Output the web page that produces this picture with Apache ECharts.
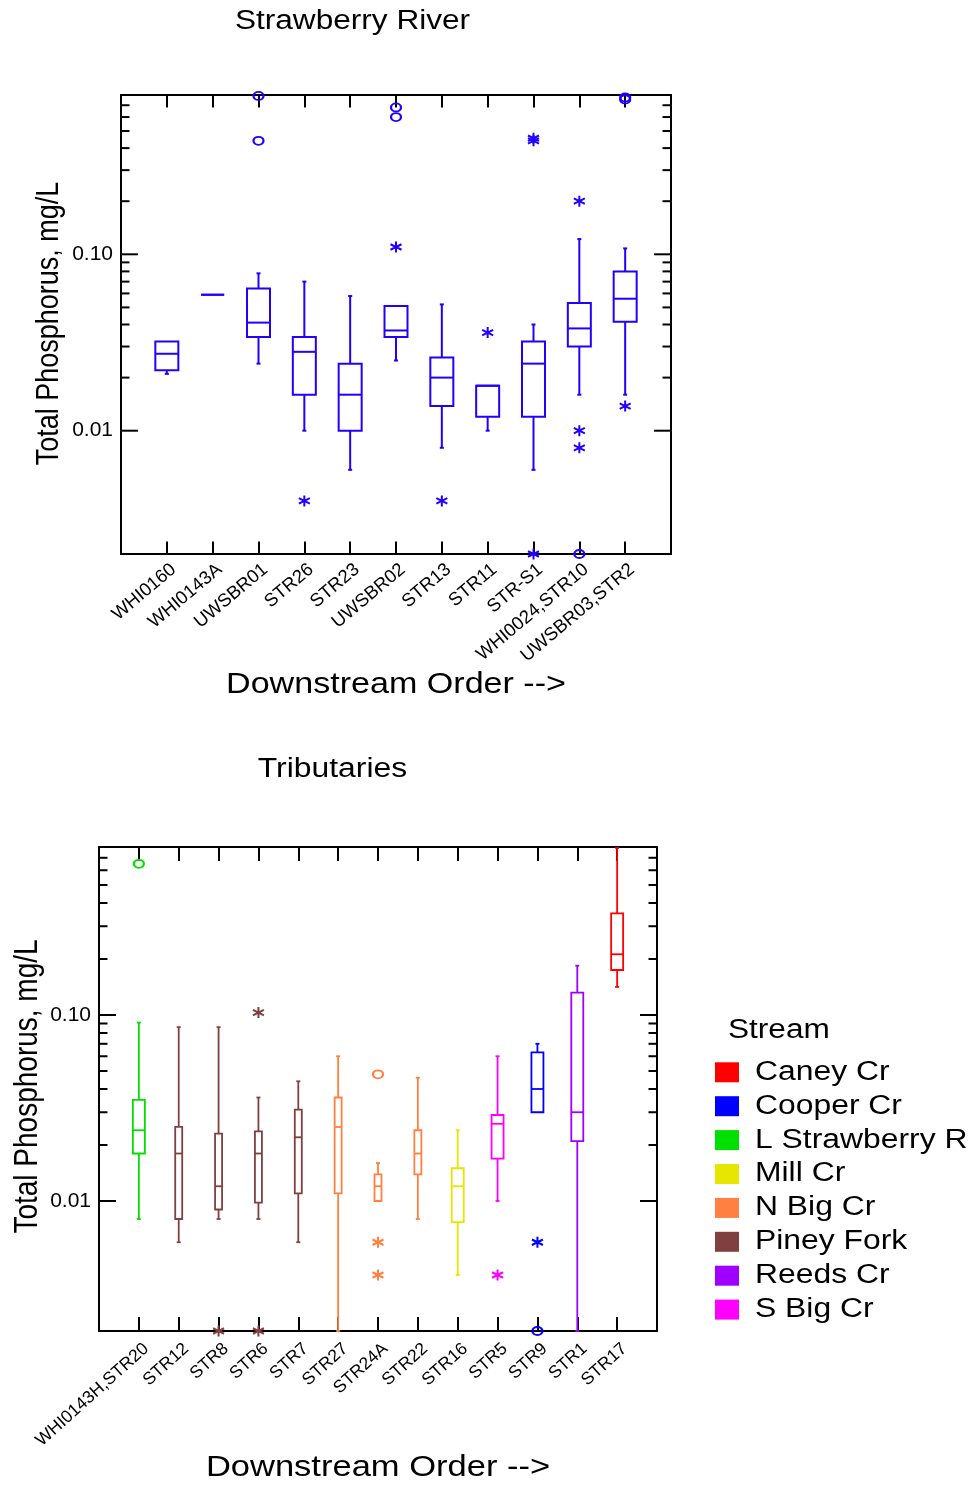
<!DOCTYPE html>
<html>
<head>
<meta charset="utf-8">
<script src="https://cdn.jsdelivr.net/npm/echarts@6.0.0/dist/echarts.min.js"></script>
<style>
html,body{margin:0;padding:0;background:#fff;}
#c{width:979px;height:1485px;}
</style>
</head>
<body>
<div id="c"></div>
<script>
// ---------------- DATA ----------------
// Strawberry River main stem (downstream order)
const riverStations = ['WHI0160','WHI0143A','UWSBR01','STR26','STR23','UWSBR02','STR13','STR11','STR-S1','WHI0024,STR10','UWSBR03,STR2'];
const riverLow  = [0.021, 0.059, 0.024, 0.010, 0.006, 0.025, 0.008, 0.010, 0.006, 0.016, 0.016];
const riverQ1   = [0.022, 0.059, 0.034, 0.016, 0.010, 0.034, 0.0138, 0.012, 0.012, 0.030, 0.0414];
const riverMed  = [0.0273, 0.059, 0.041, 0.028, 0.016, 0.037, 0.020, 0.018, 0.024, 0.038, 0.056];
const riverQ3   = [0.032, 0.059, 0.064, 0.034, 0.024, 0.051, 0.026, 0.018, 0.032, 0.053, 0.080];
const riverHigh = [0.032, 0.059, 0.078, 0.070, 0.058, 0.051, 0.052, 0.018, 0.040, 0.122, 0.108];
// far outliers (circles) and outside values (asterisks)
const riverFar = [['UWSBR01',0.79],['UWSBR01',0.44],['UWSBR02',0.68],['UWSBR02',0.60],['WHI0024,STR10',0.002],['UWSBR03,STR2',0.775],['UWSBR03,STR2',0.755]];
const riverOut = [['STR26',0.004],['UWSBR02',0.11],['STR13',0.004],['STR11',0.036],['STR-S1',0.455],['STR-S1',0.44],['STR-S1',0.002],['WHI0024,STR10',0.20],['WHI0024,STR10',0.010],['WHI0024,STR10',0.008],['UWSBR03,STR2',0.0138]];

// Tributaries (downstream order)
const tribStations = ['WHI0143H,STR20','STR12','STR8','STR6','STR7','STR27','STR24A','STR22','STR16','STR5','STR9','STR1','STR17'];
const tribStream   = ['L Strawberry R','Piney Fork','Piney Fork','Piney Fork','Piney Fork','N Big Cr','N Big Cr','N Big Cr','Mill Cr','S Big Cr','Cooper Cr','Reeds Cr','Caney Cr'];
const tribLow  = [0.008, 0.006, 0.008, 0.008, 0.006, 0.002, 0.010, 0.008, 0.004, 0.010, 0.030, 0.002, 0.1415];
const tribQ1   = [0.018, 0.008, 0.009, 0.0098, 0.011, 0.011, 0.010, 0.0139, 0.0077, 0.0169, 0.030, 0.021, 0.1745];
const tribMed  = [0.024, 0.018, 0.012, 0.018, 0.022, 0.025, 0.012, 0.018, 0.012, 0.026, 0.040, 0.030, 0.212];
const tribQ3   = [0.035, 0.025, 0.023, 0.0237, 0.031, 0.036, 0.0139, 0.024, 0.015, 0.029, 0.063, 0.132, 0.352];
const tribHigh = [0.091, 0.086, 0.086, 0.036, 0.044, 0.060, 0.016, 0.046, 0.024, 0.060, 0.070, 0.184, 0.79];
const tribFar = [['WHI0143H,STR20',0.65],['STR24A',0.048],['STR9',0.002]];
const tribOut = [['STR8',0.002],['STR6',0.103],['STR6',0.002],['STR24A',0.006],['STR24A',0.004],['STR5',0.004],['STR9',0.006]];

const streamNames = ['Caney Cr','Cooper Cr','L Strawberry R','Mill Cr','N Big Cr','Piney Fork','Reeds Cr','S Big Cr'];

// axis ticks (mg/L)
const yAxisMin = 0.002, yAxisMax = 0.8;
const majorTicks = [0.01, 0.1];
const minorTicks = [0.02,0.03,0.04,0.05,0.06,0.07,0.08,0.09,0.2,0.3,0.4,0.5,0.6,0.7];

// ---------------- STYLE ----------------
const FONT = '"Liberation Sans", Arial, Helvetica, sans-serif';
const riverColor = '#2200ff';
const streamColors = ['#ff0000','#0000ff','#00e000','#e6e600','#ff8040','#804040','#a000ff','#ff00ff'];
const narrowStreams = ['Piney Fork','N Big Cr'];
const ASTERISK = 'path://M5 0 L5 10 M0.67 2.5 L9.33 7.5 M0.67 7.5 L9.33 2.5';

function yLabel(v) {
  const l = Math.log10(v);
  if (Math.abs(l + 2) < 1e-6) return '0.01';
  if (Math.abs(l + 1) < 1e-6) return '0.10';
  return '';
}

function xAxes(gi, cats, rot, tickLen, margin, shift, fs) {
  const data = [''].concat(cats, ['']);
  const base = {
    type: 'category', gridIndex: gi, data: data, boundaryGap: false,
    axisLine: {show: true, onZero: false, lineStyle: {color: '#000', width: 2}},
    axisTick: {show: true, inside: true, length: tickLen, interval: 0, lineStyle: {color: '#000', width: 2}},
    splitLine: {show: false}
  };
  return [
    Object.assign({}, base, {position: 'bottom',
      axisLabel: {show: true, interval: 0, rotate: rot, margin: margin, fontSize: fs, fontFamily: FONT, color: '#000',
                  padding: [0, -shift, 0, 0]}}),
    Object.assign({}, base, {position: 'top', axisLabel: {show: false}})
  ];
}

function yAxes(gi) {
  const base = {
    type: 'log', logBase: 10, gridIndex: gi, min: yAxisMin, max: yAxisMax,
    axisLine: {show: true, onZero: false, lineStyle: {color: '#000', width: 2}},
    axisTick: {show: false}, splitLine: {show: false},
    minorTick: {show: false}, minorSplitLine: {show: false}
  };
  return [
    Object.assign({}, base, {position: 'left',
      axisLabel: {show: true, formatter: yLabel, fontSize: 21, margin: 8, fontFamily: FONT, color: '#000'}}),
    Object.assign({}, base, {position: 'right', axisLabel: {show: false}})
  ];
}

function tickSeries(xi, yi, values, len) {
  return {
    type: 'custom', xAxisIndex: xi, yAxisIndex: yi, silent: true, z: 6,
    data: values.map(v => [0, v]), encode: {x: 0, y: 1},
    renderItem: function (params, api) {
      const cs = params.coordSys;
      const y = api.coord([0, api.value(1)])[1];
      const st = {stroke: '#000', lineWidth: 2};
      return {type: 'group', children: [
        {type: 'line', shape: {x1: cs.x, y1: y, x2: cs.x + len, y2: y}, style: st},
        {type: 'line', shape: {x1: cs.x + cs.width - len, y1: y, x2: cs.x + cs.width, y2: y}, style: st}
      ]};
    }
  };
}

function boxSeries(name, xi, yi, data, color, boxW, lw) {
  return {
    type: 'custom', name: name, xAxisIndex: xi, yAxisIndex: yi, z: 3, silent: true,
    data: data, encode: {x: 0, y: [1, 2, 3, 4, 5]},
    renderItem: function (params, api) {
      const x = api.value(0);
      const P = i => api.coord([x, api.value(i)]);
      const lo = P(1), q1 = P(2), md = P(3), q3 = P(4), hi = P(5);
      const cx = lo[0], h = boxW / 2, cap = 2;
      const st = {stroke: color, lineWidth: lw, fill: 'none'};
      const ch = [];
      ch.push({type: 'rect', shape: {x: cx - h, y: q3[1], width: boxW, height: q1[1] - q3[1]}, style: st});
      ch.push({type: 'line', shape: {x1: cx - h, y1: md[1], x2: cx + h, y2: md[1]}, style: st});
      if (api.value(5) > api.value(4)) {
        ch.push({type: 'line', shape: {x1: cx, y1: hi[1], x2: cx, y2: q3[1]}, style: st});
        ch.push({type: 'line', shape: {x1: cx - cap, y1: hi[1], x2: cx + cap, y2: hi[1]}, style: st});
      }
      if (api.value(1) < api.value(2)) {
        ch.push({type: 'line', shape: {x1: cx, y1: q1[1], x2: cx, y2: lo[1]}, style: st});
        ch.push({type: 'line', shape: {x1: cx - cap, y1: lo[1], x2: cx + cap, y2: lo[1]}, style: st});
      }
      return {type: 'group', children: ch};
    }
  };
}

function outlierSeries(xi, yi, pts, cats, color, kind) {
  const isFar = kind === 'far';
  return {
    type: 'scatter', xAxisIndex: xi, yAxisIndex: yi, z: 4, clip: false, silent: true,
    data: pts.map(p => [cats.indexOf(p[0]) + 1, p[1]]),
    symbol: isFar ? 'circle' : ASTERISK,
    symbolSize: isFar ? [10, 8] : [11, 11],
    itemStyle: {color: 'rgba(0,0,0,0)', borderColor: color, borderWidth: 2, opacity: 1},
    emphasis: {disabled: true}
  };
}

// ---------------- SERIES ----------------
const series = [];
// top panel
const riverBoxData = riverStations.map((s, i) => [i + 1, riverLow[i], riverQ1[i], riverMed[i], riverQ3[i], riverHigh[i]]);
series.push(boxSeries('Strawberry River', 0, 0, riverBoxData, riverColor, 23, 2));
series.push(outlierSeries(0, 0, riverFar, riverStations, riverColor, 'far'));
series.push(outlierSeries(0, 0, riverOut, riverStations, riverColor, 'out'));
series.push(tickSeries(0, 0, majorTicks, 17));
series.push(tickSeries(0, 0, minorTicks, 8.5));

// bottom panel
streamNames.forEach((s, k) => {
  const color = streamColors[k];
  const data = [];
  tribStations.forEach((st, i) => {
    if (tribStream[i] === s) data.push([i + 1, tribLow[i], tribQ1[i], tribMed[i], tribQ3[i], tribHigh[i]]);
  });
  const w = narrowStreams.indexOf(s) >= 0 ? 7 : 12;
  series.push(boxSeries(s, 2, 2, data, color, w, 1.8));
  const far = tribFar.filter(p => tribStream[tribStations.indexOf(p[0])] === s);
  const out = tribOut.filter(p => tribStream[tribStations.indexOf(p[0])] === s);
  if (far.length) series.push(outlierSeries(2, 2, far, tribStations, color, 'far'));
  if (out.length) series.push(outlierSeries(2, 2, out, tribStations, color, 'out'));
});
series.push(tickSeries(2, 2, majorTicks, 17));
series.push(tickSeries(2, 2, minorTicks, 8.5));

// ---------------- TEXT / LEGEND (graphic) ----------------
function txt(text, x, y, size, opts) {
  opts = opts || {};
  return {
    type: 'text', x: x, y: y, rotation: opts.rotation || 0,
    scaleX: opts.scaleX || 1, scaleY: opts.scaleY || 1, silent: true,
    style: {
      text: text, fontSize: size, fontFamily: FONT, fill: '#000',
      align: opts.align || 'center', verticalAlign: 'middle',
      textAlign: opts.align || 'center', textVerticalAlign: 'middle'
    }
  };
}
const graphics = [
  txt('Strawberry River', 352.5, 22, 27, {scaleX: 1.17}),
  txt('Tributaries', 332.5, 770, 27, {scaleX: 1.18}),
  txt('Downstream Order -->', 396, 685, 29, {scaleX: 1.175}),
  txt('Downstream Order -->', 378, 1468, 29, {scaleX: 1.19}),
  txt('Total Phosphorus, mg/L', 49, 323.5, 27, {rotation: Math.PI / 2, scaleY: 1.17}),
  txt('Total Phosphorus, mg/L', 28, 1086.5, 28, {rotation: Math.PI / 2, scaleY: 1.17}),
  txt('Stream', 728, 1031, 27, {align: 'left', scaleX: 1.17})
];
streamNames.forEach((s, i) => {
  const cy = 1072.3 + i * 33.9;
  graphics.push({type: 'rect', silent: true, shape: {x: 715, y: cy - 10, width: 24, height: 20}, style: {fill: streamColors[i]}});
  graphics.push(txt(s, 755, cy, 27, {align: 'left', scaleX: 1.18}));
});

// ---------------- OPTION ----------------
const option = {
  backgroundColor: '#fff',
  animation: false,
  grid: [
    {left: 121, top: 95, width: 550, height: 459, containLabel: false, outerBoundsMode: 'none', show: false},
    {left: 99, top: 847, width: 558, height: 484, containLabel: false, outerBoundsMode: 'none', show: false}
  ],
  xAxis: [].concat(xAxes(0, riverStations, 40, 12.5, 19, 9, 18.5), xAxes(1, tribStations, 42, 14, 22, 10, 17.5)),
  yAxis: [].concat(yAxes(0), yAxes(1)),
  series: series,
  graphic: graphics
};

const chart = echarts.init(document.getElementById('c'), null, {renderer: 'canvas'});
chart.setOption(option);
</script>
</body>
</html>
